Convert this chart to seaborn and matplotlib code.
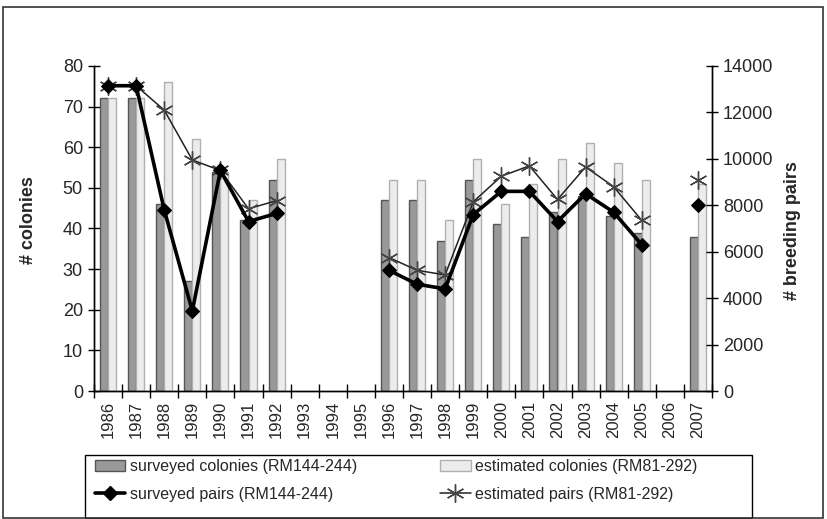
import numpy as np
import pandas as pd
import matplotlib.pyplot as plt
import seaborn as sns
from matplotlib.patches import Patch, Rectangle
from matplotlib.lines import Line2D

nan = np.nan

#%% Data
years = list(range(1986, 2008))
surveyed_colonies = [72, 72, 46, 27, 54, 42, 52, nan, nan, nan, 47, 47, 37, 52, 41, 38, 44, 48, 43, 39, nan, 38]
estimated_colonies = [72, 72, 76, 62, 54, 47, 57, nan, nan, nan, 52, 52, 42, 57, 46, 51, 57, 61, 56, 52, nan, 51]
surveyed_pairs = [13150, 13150, 7800, 3450, 9500, 7300, 7650, nan, nan, nan, 5200, 4600, 4400, 7600,
                  8600, 8600, 7300, 8500, 7700, 6300, nan, 8000]
estimated_pairs = [13150, 13150, 12100, 9950, 9500, 7850, 8200, nan, nan, nan, 5750, 5200, 5000, 8150,
                   9250, 9700, 8250, 9650, 8800, 7350, nan, 9100]

lab_sc = "surveyed colonies (RM144-244)"
lab_ec = "estimated colonies (RM81-292)"
lab_sp = "surveyed pairs (RM144-244)"
lab_ep = "estimated pairs (RM81-292)"

year_labels = [str(y) for y in years]

bars = pd.concat([
    pd.DataFrame({"year": year_labels, "value": surveyed_colonies, "series": lab_sc}),
    pd.DataFrame({"year": year_labels, "value": estimated_colonies, "series": lab_ec}),
]).dropna()


def pairs_frame(values):
    df = pd.DataFrame({"pos": np.arange(len(years)), "value": values})
    # new segment after every gap so the line breaks there
    df["seg"] = df["value"].isna().cumsum()
    return df.dropna()


sp_df = pairs_frame(surveyed_pairs)
ep_df = pairs_frame(estimated_pairs)

#%% Plot
sns.set_style("ticks")
plt.rcParams["font.family"] = ["Liberation Sans", "DejaVu Sans"]

fig = plt.figure(figsize=(8.27, 5.19), dpi=100)
ax = fig.add_axes([94 / 827, 1 - 391 / 519, 618 / 827, 325 / 519])

sns.barplot(
    data=bars, x="year", y="value", hue="series",
    order=year_labels, hue_order=[lab_sc, lab_ec],
    palette={lab_sc: "#999999", lab_ec: "#ececec"},
    width=0.572, errorbar=None, legend=False, ax=ax
)
edge_cols = ["#555555", "#b0b0b0"]
for cont, ec in zip(ax.containers, edge_cols):
    for p in cont.patches:
        p.set_edgecolor(ec)
        p.set_linewidth(1)

ax2 = ax.twinx()
sns.lineplot(
    data=ep_df, x="pos", y="value", units="seg", estimator=None,
    color="#222222", linewidth=1.1, marker=(6, 2, 0), markersize=13,
    markeredgewidth=1, markeredgecolor="#444444", ax=ax2
)
sns.lineplot(
    data=sp_df, x="pos", y="value", units="seg", estimator=None,
    color="black", linewidth=2.6, marker="D", markersize=7,
    markeredgecolor="black", ax=ax2
)

ax.set_xlim(-0.5, len(years) - 0.5)
ax2.set_xlim(-0.5, len(years) - 0.5)
ax.set_ylim(0, 80)
ax2.set_ylim(0, 14000)
ax.set_yticks(range(0, 81, 10))
ax2.set_yticks(range(0, 14001, 2000))

ax.set_xticks(range(len(years)))
ax.set_xticklabels(year_labels, rotation=90, fontsize=12)
ax.set_xticks(np.arange(-0.5, len(years), 1), minor=True)
ax.tick_params(axis="x", which="major", length=0, pad=7)
ax.tick_params(axis="x", which="minor", direction="inout", length=10, width=1, color="black")
ax.tick_params(axis="y", direction="inout", length=8, width=1, labelsize=13, pad=4, color="black")
ax2.tick_params(axis="y", direction="inout", length=8, width=1, labelsize=13, pad=4, color="black")

ax.set_xlabel("")
ax.set_ylabel("# colonies", fontsize=13, fontweight="bold")
ax.yaxis.set_label_coords(-0.092, 0.525)
ax2.set_xlabel("")
ax2.set_ylabel("# breeding pairs", fontsize=13, fontweight="bold")
ax2.yaxis.set_label_coords(1.116, 0.495)

for a in (ax, ax2):
    a.spines["top"].set_visible(False)
    for s in ("left", "bottom", "right"):
        a.spines[s].set_color("black")
        a.spines[s].set_linewidth(1)

handles = [
    Patch(facecolor="#999999", edgecolor="#555555", label=lab_sc),
    Line2D([], [], color="black", linewidth=2.6, marker="D", markersize=7, label=lab_sp),
    Patch(facecolor="#ececec", edgecolor="#b0b0b0", label=lab_ec),
    Line2D([], [], color="#222222", linewidth=1.1, marker=(6, 2, 0), markersize=13,
           markeredgecolor="#444444", label=lab_ep),
]
fig.legend(
    handles=handles, ncol=2, loc="upper left",
    bbox_to_anchor=(90 / 827, 1 - 454 / 519), borderaxespad=0,
    fontsize=11.5, frameon=False, handlelength=1.9, handletextpad=0.3,
    labelspacing=0.83, borderpad=0.3, columnspacing=5.2
)
# legend box
fig.add_artist(Rectangle((85 / 827, 1 - 518 / 519), 667 / 827, 63 / 519, transform=fig.transFigure,
                         fill=False, edgecolor="black", linewidth=1))
# outer chart frame
fig.add_artist(Rectangle((3 / 827, 1 / 519), 820 / 827, 511 / 519, transform=fig.transFigure,
                         fill=False, edgecolor="#333333", linewidth=1.2))

fig.savefig("out.png", dpi=100)
plt.close(fig)
